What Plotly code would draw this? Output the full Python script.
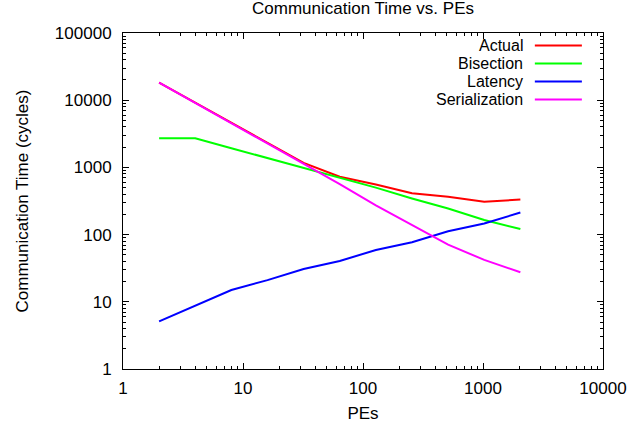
import plotly.graph_objects as go

pes = [2, 4, 8, 16, 32, 64, 128, 256, 512, 1024, 2048]
actual = [18200, 9100, 4550, 2280, 1170, 727, 555, 412, 365, 308, 333]
bisection = [2710, 2710, 1930, 1370, 970, 688, 500, 345, 245, 165, 121]
latency = [5.1, 8.8, 15, 21, 30.8, 40.5, 59, 77, 112, 146, 213]
serialization = [18200, 9100, 4550, 2280, 1140, 565, 272, 140, 71, 42, 27.5]

names = ["Actual", "Bisection", "Latency", "Serialization"]
colors = ["#ff0000", "#00ff00", "#0000ff", "#ff00ff"]
series = [actual, bisection, latency, serialization]

x_ticks = [1, 10, 100, 1000, 10000]
x_ticklabels = ["1", "10", "100", "1000", "10000"]
y_ticks = [1, 10, 100, 1000, 10000, 100000]
y_ticklabels = ["1", "10", "100", "1000", "10000", "100000"]

FONT = "Liberation Sans, Arial, Helvetica, sans-serif"
FS = 17

fig = go.Figure()
for name, col, ys in zip(names, colors, series):
    fig.add_trace(go.Scatter(x=pes, y=ys, mode="lines", name=name,
                             line=dict(color=col, width=2), showlegend=False))

# gnuplot-style legend: right-aligned text, then a line sample
legend_y = [0.9628, 0.9092, 0.8557, 0.8021]
for name, col, ly in zip(names, colors, legend_y):
    fig.add_annotation(x=0.836, y=ly, xref="paper", yref="paper", text=name,
                       showarrow=False, xanchor="right", yanchor="middle",
                       borderpad=0,
                       font=dict(family=FONT, size=16, color="black"))
    fig.add_shape(type="line", xref="paper", yref="paper", x0=0.858, x1=0.956,
                  y0=ly, y1=ly, line=dict(color=col, width=2))

axis_common = dict(
    type="log", showline=True, linecolor="black", linewidth=1, mirror="allticks",
    ticks="inside", ticklen=6, tickcolor="black", showgrid=False, zeroline=False,
    automargin=False,
    tickfont=dict(family=FONT, size=FS, color="black"),
    minor=dict(ticks="inside", ticklen=3, tickcolor="black", dtick="D1", showgrid=False),
)

fig.update_xaxes(range=[0, 4], tickvals=x_ticks, ticktext=x_ticklabels,
                 ticklabelstandoff=4,
                 title=dict(text="PEs", font=dict(family=FONT, size=FS, color="black"), standoff=9),
                 **axis_common)
fig.update_yaxes(range=[0, 5], tickvals=y_ticks, ticktext=y_ticklabels,
                 ticklabelstandoff=7,
                 title=dict(text="Communication Time (cycles)", font=dict(family=FONT, size=FS, color="black"), standoff=21),
                 **axis_common)

fig.update_layout(
    width=630, height=429, autosize=False,
    margin=dict(l=123, r=27, t=33, b=60, autoexpand=False),
    paper_bgcolor="white", plot_bgcolor="white",
    title=dict(text="Communication Time vs. PEs", x=0.5762, xanchor="center",
               y=0.982, yanchor="middle",
               font=dict(family=FONT, size=FS, color="black")),
    font=dict(family=FONT),
)

fig.write_html("out.html")
